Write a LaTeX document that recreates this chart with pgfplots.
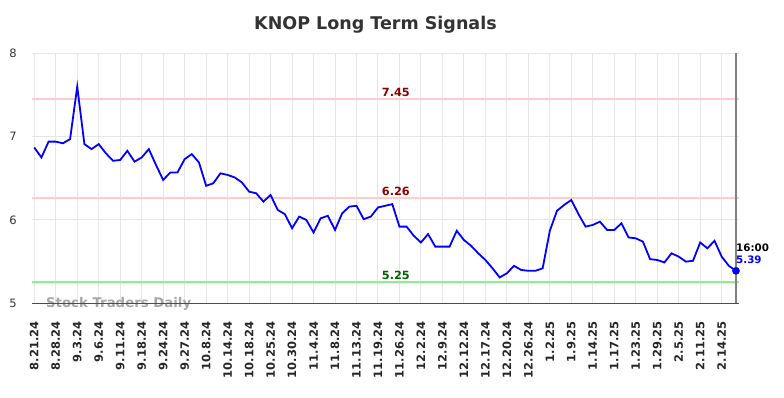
\documentclass[border=0pt]{standalone}
\usepackage{pgfplots}
\pgfplotsset{compat=1.18}
\usepackage{fontspec}
\setmainfont{DejaVu Sans}
\definecolor{gridc}{RGB}{230,230,230}
\definecolor{redl}{RGB}{255,204,204}
\definecolor{greenl}{RGB}{144,238,144}
\definecolor{dred}{RGB}{139,0,0}
\definecolor{dgreen}{RGB}{0,100,0}
\definecolor{titlec}{RGB}{51,51,51}
\definecolor{vline}{RGB}{128,128,128}
\begin{document}
\begin{tikzpicture}
\useasboundingbox (-31.7pt,-94.7pt) rectangle (752.3pt,303.3pt);
\begin{axis}[
  at={(0,0)}, anchor=south west,
  scale only axis, width=707.3pt, height=250pt,
  xmin=-0.36, xmax=98.42, ymin=5, ymax=8,
  clip=false,
  axis line style={draw=none},
  major tick length=0pt,
  grid=major, major grid style={gridc, line width=1pt},
  xtick={0,3,...,96},
  xticklabels={8.21.24,8.28.24,9.3.24,9.6.24,9.11.24,9.18.24,9.24.24,9.27.24,10.8.24,10.14.24,10.18.24,10.25.24,10.30.24,11.4.24,11.8.24,11.13.24,11.19.24,11.26.24,12.2.24,12.9.24,12.12.24,12.17.24,12.20.24,12.26.24,1.2.25,1.9.25,1.14.25,1.17.25,1.23.25,1.29.25,2.5.25,2.11.25,2.14.25},
  xticklabel style={rotate=90, anchor=east, font=\bfseries\fontsize{11.5}{11.5}\selectfont, text=black!85, inner sep=0pt},
  xticklabel shift=18pt,
  ytick={5,6,7,8},
  yticklabel style={font=\fontsize{11.5}{12}\selectfont, text=titlec, anchor=center, inner sep=0pt},
  yticklabel shift=18.7pt,
  /pgf/number format/assume math mode=true,
]
\draw[redl, line width=2pt] (axis cs:-0.36,7.45) -- (axis cs:98.42,7.45);
\draw[redl, line width=2pt] (axis cs:-0.36,6.26) -- (axis cs:98.42,6.26);
\draw[greenl, line width=2pt] (axis cs:-0.36,5.25) -- (axis cs:98.42,5.25);
\draw[vline, line width=2pt] (axis cs:98,5) -- (axis cs:98,8);
\node[font=\bfseries\fontsize{13.3}{14}\selectfont, text=gray!70, anchor=west, inner sep=0pt] at (axis cs:1.63,4.995) {Stock Traders Daily};
\draw[black!70, line width=1.2pt] (axis cs:-0.36,5) -- (axis cs:98.42,5);
\addplot[blue, line width=1.8pt, mark=none] table[x=i, y=v] {
i v
0 6.87
1 6.75
2 6.94
3 6.94
4 6.92
5 6.97
6 7.60
7 6.91
8 6.85
9 6.91
10 6.80
11 6.71
12 6.72
13 6.83
14 6.70
15 6.75
16 6.85
17 6.66
18 6.48
19 6.57
20 6.57
21 6.73
22 6.79
23 6.69
24 6.41
25 6.44
26 6.56
27 6.54
28 6.51
29 6.45
30 6.34
31 6.32
32 6.22
33 6.30
34 6.12
35 6.07
36 5.90
37 6.04
38 6.00
39 5.85
40 6.02
41 6.05
42 5.88
43 6.08
44 6.16
45 6.17
46 6.01
47 6.04
48 6.15
49 6.17
50 6.19
51 5.92
52 5.92
53 5.81
54 5.73
55 5.83
56 5.68
57 5.68
58 5.68
59 5.87
60 5.76
61 5.69
62 5.60
63 5.52
64 5.42
65 5.31
66 5.36
67 5.45
68 5.40
69 5.39
70 5.39
71 5.42
72 5.87
73 6.11
74 6.18
75 6.24
76 6.07
77 5.92
78 5.94
79 5.98
80 5.88
81 5.88
82 5.96
83 5.79
84 5.78
85 5.74
86 5.53
87 5.52
88 5.49
89 5.60
90 5.56
91 5.50
92 5.51
93 5.73
94 5.66
95 5.75
96 5.56
97 5.45
98 5.39
};
\addplot[blue, only marks, mark=*, mark size=3.6pt] coordinates {(98,5.39)};
\node[font=\bfseries\fontsize{11.3}{12}\selectfont, text=dred] at (axis cs:50.5,7.535) {7.45};
\node[font=\bfseries\fontsize{11.3}{12}\selectfont, text=dred] at (axis cs:50.5,6.345) {6.26};
\node[font=\bfseries\fontsize{11.3}{12}\selectfont, text=dgreen] at (axis cs:50.5,5.335) {5.25};
\node[font=\bfseries\fontsize{10.3}{11}\selectfont, text=black, anchor=west, inner sep=0pt] at (axis cs:98,5.672) {16:00};
\node[font=\bfseries\fontsize{10.3}{11}\selectfont, text=blue, anchor=west, inner sep=0pt] at (axis cs:98,5.52) {5.39};
\node[font=\bfseries\fontsize{17.5}{19}\selectfont, text=titlec] at (axis cs:47.65,8.34) {KNOP Long Term Signals};
\end{axis}
\end{tikzpicture}
\end{document}
